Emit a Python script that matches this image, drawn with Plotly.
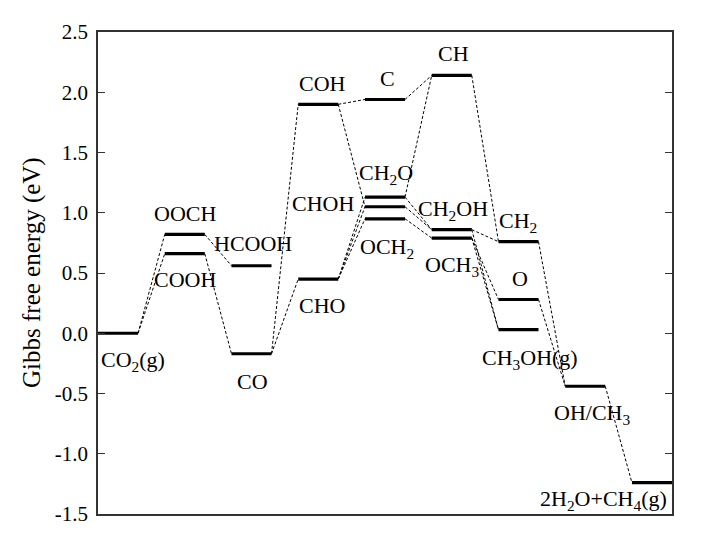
import plotly.graph_objects as go

# ---- data ----
species = ["CO2(g)", "OOCH", "COOH", "HCOOH", "CO", "COH", "CHO", "C", "CH2O", "CHOH",
           "OCH2", "CH", "CH2OH", "OCH3", "CH2", "O", "CH3OH(g)", "OH/CH3", "2H2O+CH4(g)"]
columns = [0, 1, 1, 2, 2, 3, 3, 4, 4, 4, 4, 5, 5, 5, 6, 6, 6, 7, 8]
energies = [0.00, 0.82, 0.66, 0.56, -0.17, 1.90, 0.45, 1.94, 1.13, 1.05,
            0.95, 2.14, 0.86, 0.79, 0.76, 0.28, 0.03, -0.44, -1.24]
display_labels = ["CO<sub>2</sub>(g)", "OOCH", "COOH", "HCOOH", "CO", "COH", "CHO", "C",
                  "CH<sub>2</sub>O", "CHOH", "OCH<sub>2</sub>", "CH", "CH<sub>2</sub>OH",
                  "OCH<sub>3</sub>", "CH<sub>2</sub>", "O", "CH<sub>3</sub>OH(g)",
                  "OH/CH<sub>3</sub>", "2H<sub>2</sub>O+CH<sub>4</sub>(g)"]
connections = [
    ("CO2(g)", "OOCH"), ("CO2(g)", "COOH"),
    ("OOCH", "HCOOH"), ("COOH", "CO"),
    ("CO", "COH"), ("CO", "CHO"),
    ("COH", "C"), ("COH", "CHOH"),
    ("CHO", "CH2O"), ("CHO", "CHOH"), ("CHO", "OCH2"),
    ("C", "CH"), ("CH2O", "CH"),
    ("CH2O", "CH2OH"), ("CHOH", "CH2OH"), ("OCH2", "OCH3"),
    ("CH", "CH2"), ("CH2OH", "CH2"),
    ("CH2OH", "CH3OH(g)"), ("OCH3", "CH3OH(g)"), ("OCH3", "O"),
    ("CH2", "OH/CH3"), ("O", "OH/CH3"),
    ("OH/CH3", "2H2O+CH4(g)"),
]
tick_vals = [-1.5, -1.0, -0.5, 0.0, 0.5, 1.0, 1.5, 2.0, 2.5]
tick_text = ["-1.5", "-1.0", "-0.5", "0.0", "0.5", "1.0", "1.5", "2.0", "2.5"]
y_title = "Gibbs free energy (eV)"

# ---- style / placement ----
LEVEL_W = 0.6
FONT = "Liberation Serif"
# label offsets in pixels (dx, dy) relative to the centre of each level; dy positive = up
label_offsets = {
    "CO2(g)": (15, -28), "OOCH": (0, 21), "COOH": (0, -26), "HCOOH": (1, 22),
    "CO": (1, -28), "COH": (4, 21), "CHO": (4, -26), "C": (2, 21), "CH2O": (1, 23),
    "CHOH": (-62, 3), "OCH2": (2, -29), "CH": (2, 22), "CH2OH": (1, 20),
    "OCH3": (0, -28), "CH2": (0, 20), "O": (2, 21), "CH3OH(g)": (12, -29),
    "OH/CH3": (7, -28), "2H2O+CH4(g)": (-48, -17),
}

idx = {s: i for i, s in enumerate(species)}
fig = go.Figure()

# dashed connectors
for a, b in connections:
    ia, ib = idx[a], idx[b]
    fig.add_trace(go.Scatter(
        x=[columns[ia] + LEVEL_W, columns[ib]],
        y=[energies[ia], energies[ib]],
        mode="lines", line=dict(color="black", width=1, dash="3px,2px"),
        hoverinfo="skip", showlegend=False))

# energy levels
for i, s in enumerate(species):
    fig.add_trace(go.Scatter(
        x=[columns[i], columns[i] + LEVEL_W], y=[energies[i], energies[i]],
        mode="lines", line=dict(color="black", width=3.2),
        name=s, showlegend=False))

# labels
for i, s in enumerate(species):
    dx, dy = label_offsets[s]
    fig.add_annotation(x=columns[i] + LEVEL_W / 2, y=energies[i], xref="x", yref="y",
                       text=display_labels[i], showarrow=False, xshift=dx, yshift=dy,
                       font=dict(family=FONT, size=22, color="black"))

# y-axis title
fig.add_annotation(x=0, y=0.5, xref="paper", yref="paper", text=y_title,
                   textangle=-90, showarrow=False, xanchor="center", yanchor="middle",
                   xshift=-66, font=dict(family=FONT, size=25, color="black"))

axis_color = "#333333"
fig.update_layout(
    width=705, height=545,
    margin=dict(l=90, r=41, t=24, b=39),
    paper_bgcolor="white", plot_bgcolor="white",
    font=dict(family=FONT, size=21, color="black"),
    xaxis=dict(range=[0, 8.6], showticklabels=False, ticks="", showgrid=False,
               zeroline=False, showline=True, linecolor=axis_color, linewidth=1.5,
               mirror=True),
    yaxis=dict(range=[-1.5, 2.5], tickvals=tick_vals, ticktext=tick_text,
               ticks="inside", ticklen=7, tickwidth=1.2, tickcolor=axis_color,
               showgrid=False, zeroline=False, showline=True, linecolor=axis_color,
               linewidth=1.5, mirror="ticks", ticklabelstandoff=4,
               tickfont=dict(family=FONT, size=21)),
)

fig.write_html("out.html")
